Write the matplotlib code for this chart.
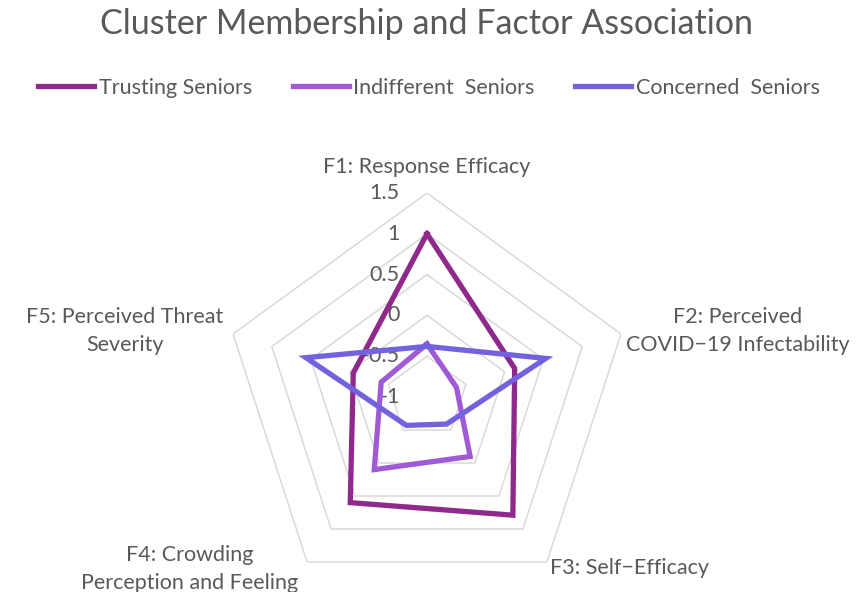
import numpy as np
import matplotlib
matplotlib.use("Agg")
import matplotlib.pyplot as plt

plt.rcParams['font.family'] = ['Lato', 'DejaVu Sans']

# Data
factors = ["F1: Response Efficacy", "F2: Perceived\nCOVID\u221219 Infectability",
           "F3: Self\u2212Efficacy", "F4: Crowding\nPerception and Feeling",
           "F5: Perceived Threat\nSeverity"]
trusting = [1.0, 0.13, 0.79, 0.60, -0.05]
indifferent = [-0.35, -0.62, -0.10, 0.10, -0.41]
concerned = [-0.38, 0.53, -0.59, -0.57, 0.56]
series_names = ["Trusting Seniors", "Indifferent  Seniors", "Concerned  Seniors"]
series_colors = ["#8F2A8C", "#A05AD6", "#7262DE"]
r_ticks = [-1, -0.5, 0, 0.5, 1, 1.5]
r_tick_labels = ["-1", "-0.5", "0", "0.5", "1", "1.5"]

text_color = "#595959"
grid_color = "#D9D9D9"
fs = 15.5

W, H = 861, 592
fig = plt.figure(figsize=(W / 100, H / 100), dpi=100)

# polar axes positioned so the centre sits at (427, 397) px, outer ring radius 204 px
cx, cy, R = 427, 397, 204
ax = fig.add_axes([(cx - R) / W, (H - cy - R) / H, 2 * R / W, 2 * R / H], projection="polar")
ax.set_theta_offset(np.pi / 2)
ax.set_theta_direction(-1)
ax.set_ylim(r_ticks[0], r_ticks[-1])
ax.grid(False)
ax.spines["polar"].set_visible(False)
ax.set_xticks([])
ax.set_yticks([])
ax.patch.set_alpha(0)

n = len(factors)
angles = np.linspace(0, 2 * np.pi, n, endpoint=False)
closed = np.append(angles, angles[0])

# pentagon rings
for rv in r_ticks[1:]:
    ax.plot(closed, [rv] * (n + 1), color=grid_color, lw=1.1, zorder=1)

# radial tick labels
for rv, lab in zip(r_ticks, r_tick_labels):
    ax.annotate(lab, xy=(0, rv), xytext=(-19.5, 0), textcoords="offset points",
                ha="right", va="center", fontsize=fs, color=text_color, zorder=2)

for vals, name, col in zip([trusting, indifferent, concerned], series_names, series_colors):
    v = np.append(vals, vals[0])
    ax.plot(closed, v, color=col, lw=3.8, label=name, zorder=3, solid_joinstyle="miter")

# category labels
label_pos = [(427, 167), (738, 331), (630, 568), (190, 569), (125, 331)]
for (px, py), lab in zip(label_pos, factors):
    fig.text(px / W, 1 - py / H, lab, ha="center", va="center", fontsize=fs,
             color=text_color, linespacing=1.45)

fig.text(426 / W, 1 - 24 / H, "Cluster Membership and Factor Association",
         ha="center", va="center", fontsize=24.5, color=text_color)

handles, labels = ax.get_legend_handles_labels()
leg = fig.legend(handles, labels, loc="center", bbox_to_anchor=(429 / W, 1 - 88 / H),
                 ncol=3, frameon=False, fontsize=fs, handlelength=2.6,
                 handletextpad=0.2, columnspacing=1.9)
for t in leg.get_texts():
    t.set_color(text_color)

fig.savefig("out.png", dpi=100)
